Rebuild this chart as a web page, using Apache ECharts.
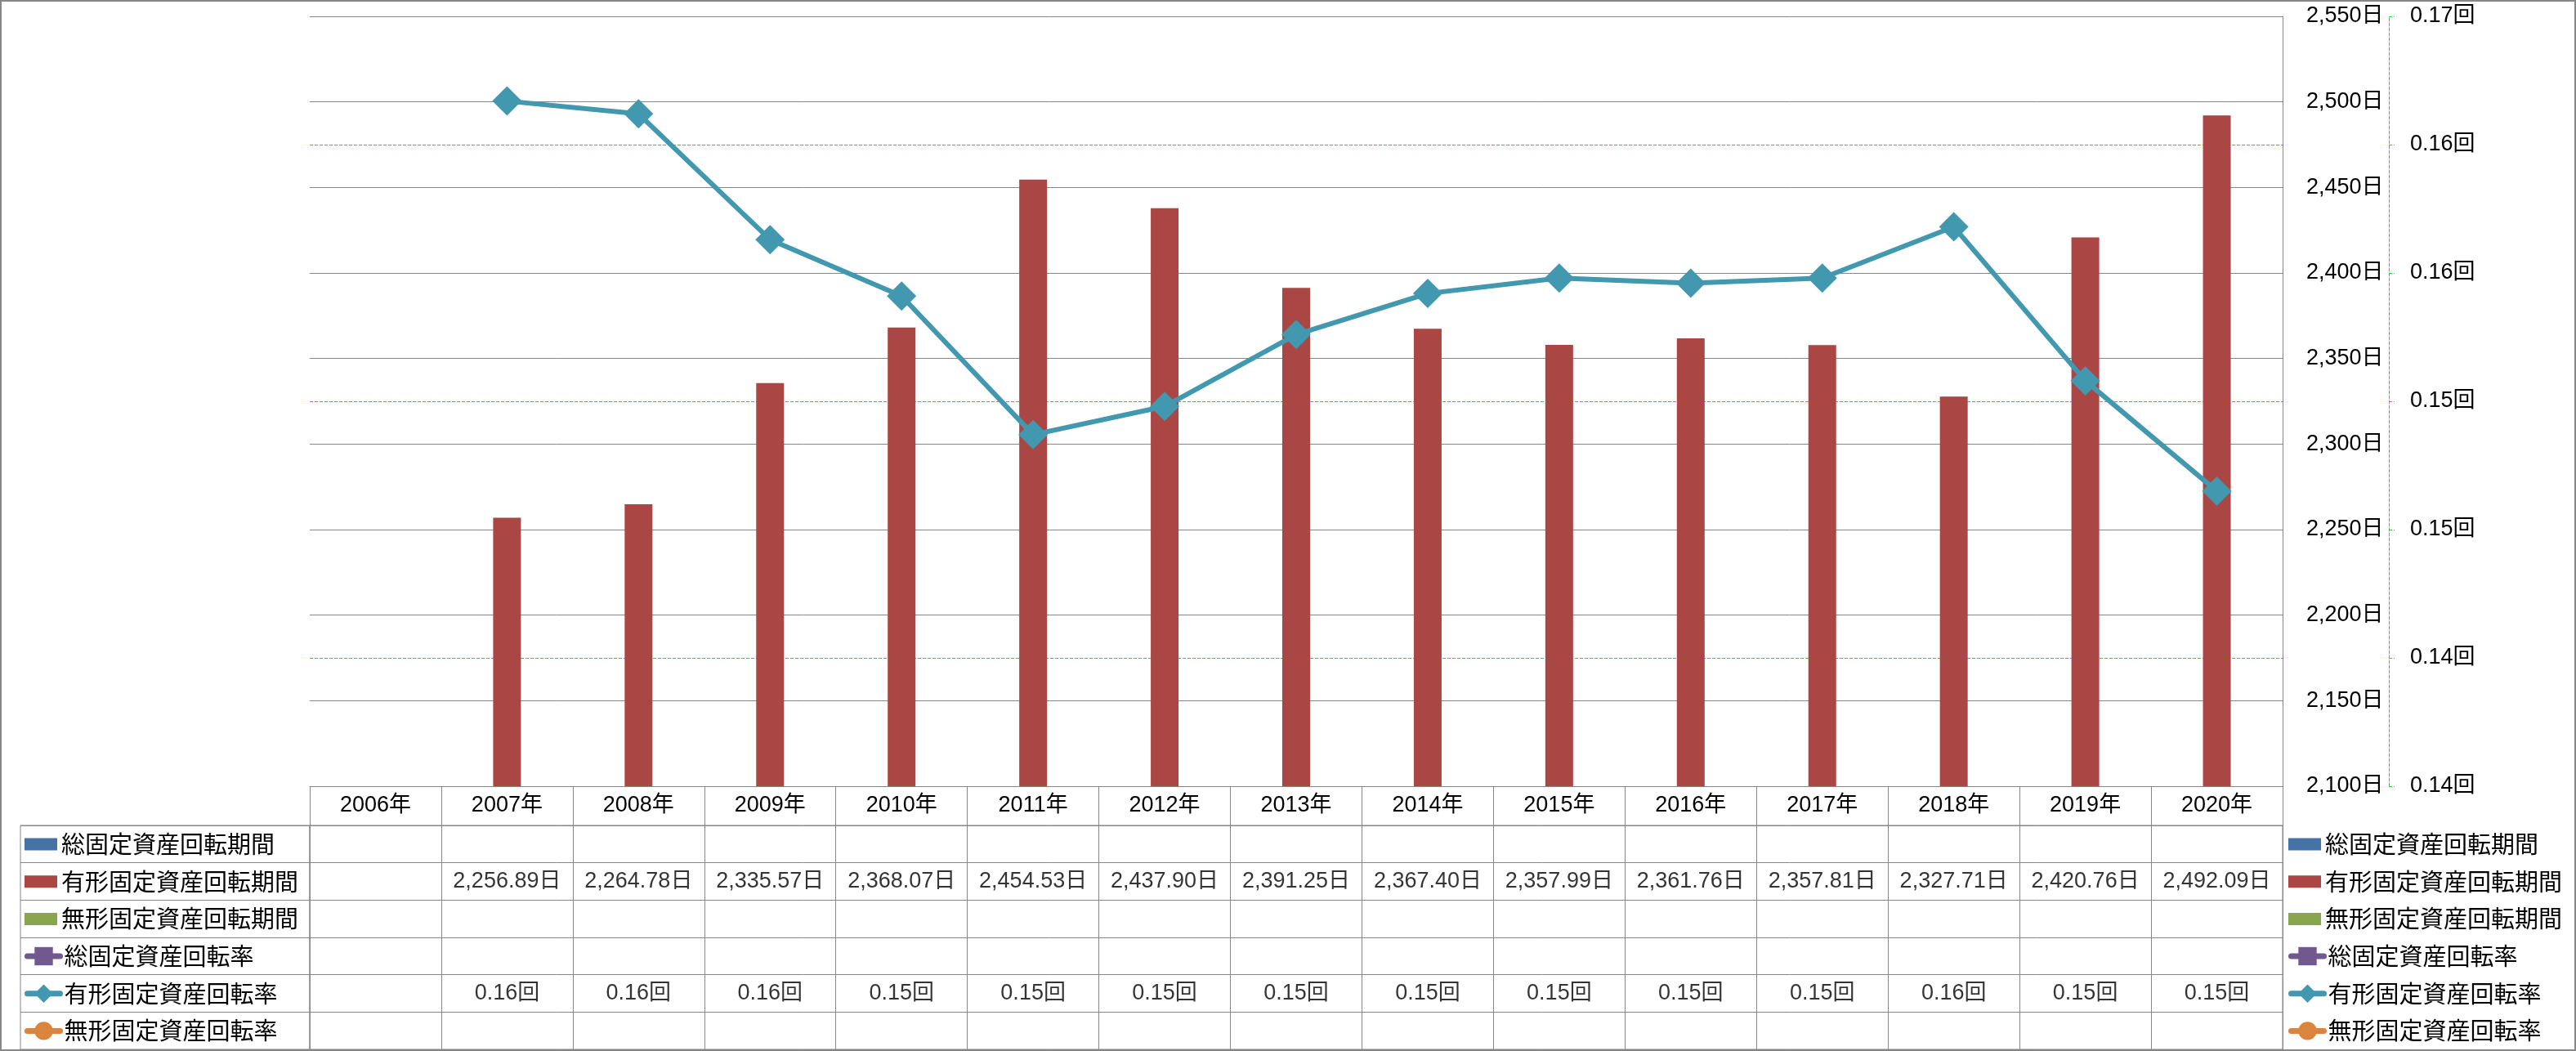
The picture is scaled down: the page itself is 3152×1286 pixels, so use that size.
<!DOCTYPE html>
<html>
<head>
<meta charset="utf-8">
<script src="https://cdn.jsdelivr.net/npm/echarts@6/dist/echarts.min.js"></script>
<style>
  html, body { margin: 0; padding: 0; background: #fff; }
  #chart { width: 3152px; height: 1286px; }
</style>
</head>
<body>
<div id="chart"></div>
<script>
// ---- data ----
const years = ['2006年','2007年','2008年','2009年','2010年','2011年','2012年','2013年','2014年','2015年','2016年','2017年','2018年','2019年','2020年'];
const seriesNames = ['総固定資産回転期間','有形固定資産回転期間','無形固定資産回転期間','総固定資産回転率','有形固定資産回転率','無形固定資産回転率'];
const seriesColors = ['#4572A7','#AA4643','#89A54E','#71588F','#4198AF','#DB843D'];
const totalPeriod      = [null,null,null,null,null,null,null,null,null,null,null,null,null,null,null];
const tangiblePeriod   = [null,2256.89,2264.78,2335.57,2368.07,2454.53,2437.90,2391.25,2367.40,2357.99,2361.76,2357.81,2327.71,2420.76,2492.09];
const intangiblePeriod = [null,null,null,null,null,null,null,null,null,null,null,null,null,null,null];
const totalRate        = [null,null,null,null,null,null,null,null,null,null,null,null,null,null,null];
const tangibleRate     = [null,0.1617,0.1612,0.1563,0.1541,0.1487,0.1498,0.1526,0.1542,0.1548,0.1546,0.1548,0.1568,0.1508,0.1465];
const intangibleRate   = [null,null,null,null,null,null,null,null,null,null,null,null,null,null,null];
const rateTickLabels   = ['0.14回','0.14回','0.15回','0.15回','0.16回','0.16回','0.17回'];

// ---- styling ----
const GREY = '#868686';
const GREEN = '#22dd22';
const NUM_FONT = "'Liberation Sans', 'Noto Sans CJK JP', sans-serif";
const CJK_FONT = "'Noto Sans CJK JP', sans-serif";

const fmtPeriod = v => v.toLocaleString('en-US', {minimumFractionDigits: 2, maximumFractionDigits: 2}) + '日';
const fmtRate = v => v.toFixed(2) + '回';

const periodSeries = [totalPeriod, tangiblePeriod, intangiblePeriod];
const rateSeries = [totalRate, tangibleRate, intangibleRate];
const rateSymbols = ['rect', 'diamond', 'circle'];

// table cells: one scatter series per table row, placed through category axes
function cellData(values, rowName, fmt) {
  const out = [];
  values.forEach((v, i) => { if (v != null) out.push([years[i], rowName, fmt(v)]); });
  return out;
}

const series = [];
periodSeries.forEach((vals, k) => {
  series.push({
    name: seriesNames[k], type: 'bar', xAxisIndex: 0, yAxisIndex: 1,
    data: vals, barWidth: 34, barGap: '-100%',
    itemStyle: { color: seriesColors[k] }
  });
});
rateSeries.forEach((vals, k) => {
  series.push({
    name: seriesNames[3 + k], type: 'line', xAxisIndex: 0, yAxisIndex: 0,
    data: vals, symbol: rateSymbols[k], symbolSize: 36,
    lineStyle: { width: 6, color: seriesColors[3 + k], join: 'round' },
    itemStyle: { color: seriesColors[3 + k] }
  });
});
const tableRows = [
  [totalPeriod, fmtPeriod], [tangiblePeriod, fmtPeriod], [intangiblePeriod, fmtPeriod],
  [totalRate, fmtRate], [tangibleRate, fmtRate], [intangibleRate, fmtRate]
];
tableRows.forEach((r, k) => {
  series.push({
    name: 'cell' + k, type: 'scatter', xAxisIndex: 1, yAxisIndex: 2,
    data: cellData(r[0], seriesNames[k], r[1]),
    symbolSize: 1, itemStyle: { color: 'rgba(0,0,0,0)' }, silent: true,
    label: { show: true, position: 'inside', formatter: p => p.data[2],
             color: '#000', fontSize: 27, fontFamily: NUM_FONT }
  });
});

function legendBlock(left, top, names, itemHeight, isLine) {
  const lg = {
    orient: 'vertical', left: left, top: top, padding: 0,
    itemWidth: 40, itemHeight: itemHeight, itemGap: 15.7,
    data: names.map(n => isLine ? { name: n } : { name: n, icon: 'rect' }),
    selectedMode: false,
    textStyle: { fontSize: 29, lineHeight: 30, color: '#000', fontFamily: CJK_FONT }
  };
  if (isLine) lg.lineStyle = { width: 7, cap: 'round' };
  return lg;
}

const option = {
  animation: false,
  backgroundColor: '#fff',
  graphic: [{ type: 'rect', silent: true, shape: { x: 1, y: 1, width: 3150, height: 1284 },
              style: { fill: null, stroke: GREY, lineWidth: 2 } }],
  legend: [
    legendBlock(30, 1018, seriesNames.slice(0, 3), 15, false),
    legendBlock(30, 1155, seriesNames.slice(3), 28, true),
    legendBlock(2800, 1018, seriesNames.slice(0, 3), 15, false),
    legendBlock(2800, 1155, seriesNames.slice(3), 28, true)
  ],
  grid: [
    { left: 379, right: 359, top: 20, height: 942 },
    { left: 379, right: 359, top: 1010, height: 274, show: true, borderColor: GREY, borderWidth: 1 },
    { left: 25, width: 354, top: 1010, height: 274, show: true, borderColor: GREY, borderWidth: 1 }
  ],
  xAxis: [
    { type: 'category', gridIndex: 0, data: years, boundaryGap: true,
      axisLine: { show: true, lineStyle: { color: GREY, width: 1 } },
      axisTick: { show: true, length: 48, interval: 0, lineStyle: { color: GREY } },
      axisLabel: { show: true, interval: 0, margin: 24, verticalAlign: 'middle',
                   color: '#000', fontSize: 27, fontFamily: NUM_FONT },
      splitLine: { show: false } },
    { type: 'category', gridIndex: 1, data: years, boundaryGap: true,
      axisLine: { show: false }, axisTick: { show: false }, axisLabel: { show: false },
      splitLine: { show: true, interval: 0, lineStyle: { color: GREY, width: 1 } } },
    { type: 'value', gridIndex: 2, show: false }
  ],
  yAxis: [
    { type: 'value', gridIndex: 0, position: 'right', offset: 130,
      min: 0.135, max: 0.165, interval: 0.005,
      axisLine: { show: true, lineStyle: { color: GREEN, type: 'dashed', width: 1 } },
      axisTick: { show: true, length: 7, lineStyle: { color: GREEN, type: 'dashed' } },
      axisLabel: { margin: 26, color: '#000', fontSize: 27, fontFamily: NUM_FONT,
                   formatter: (v, i) => rateTickLabels[i] },
      splitLine: { show: true, lineStyle: { color: GREEN, type: 'dashed', width: 1 } } },
    { type: 'value', gridIndex: 0, position: 'right',
      min: 2100, max: 2550, interval: 50,
      axisLine: { show: true, lineStyle: { color: GREY, width: 1 } },
      axisTick: { show: false },
      axisLabel: { margin: 29, color: '#000', fontSize: 27, fontFamily: NUM_FONT,
                   formatter: v => v.toLocaleString('en-US') + '日' },
      splitLine: { show: true, lineStyle: { color: GREY, width: 1 } } },
    { type: 'category', gridIndex: 1, data: seriesNames, inverse: true, boundaryGap: true,
      axisLine: { show: false }, axisTick: { show: false }, axisLabel: { show: false },
      splitLine: { show: true, interval: 0, lineStyle: { color: GREY, width: 1 } } },
    { type: 'category', gridIndex: 2, data: seriesNames, inverse: true, boundaryGap: true,
      axisLine: { show: false }, axisTick: { show: false }, axisLabel: { show: false },
      splitLine: { show: true, interval: 0, lineStyle: { color: GREY, width: 1 } } }
  ],
  series: series
};

const chart = echarts.init(document.getElementById('chart'), null, { renderer: 'canvas' });
chart.setOption(option);
</script>
</body>
</html>
